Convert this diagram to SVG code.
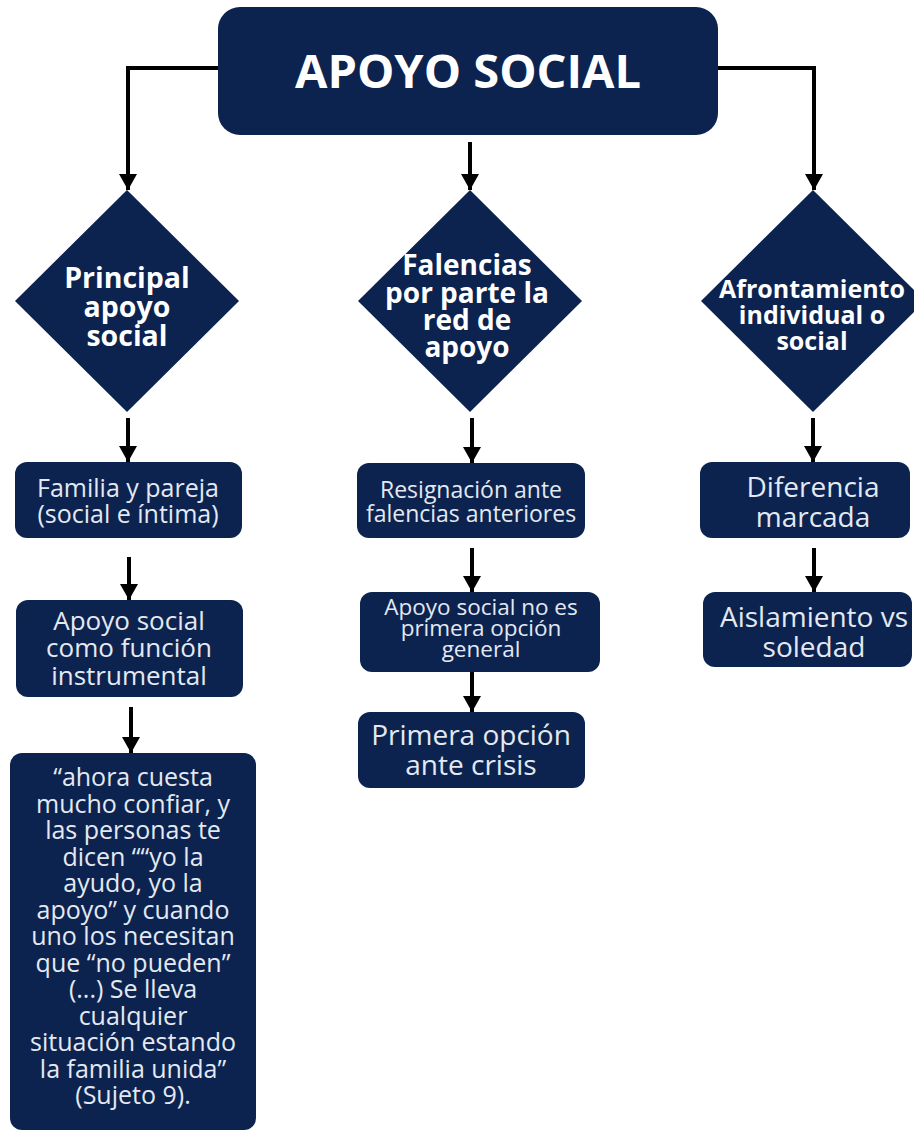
<svg xmlns="http://www.w3.org/2000/svg" width="914" height="1133" viewBox="0 0 914 1133">
<style>
.n{fill:#0c2350}
.t{font-family:"Open Sans","Liberation Sans",sans-serif;text-anchor:middle}
.b{font-weight:700;fill:#ffffff}
.r{font-weight:400;fill:#e4e9f1}
.c{fill:none;stroke:#000;stroke-width:4}
</style>
<defs>
<marker id="ah" markerUnits="userSpaceOnUse" markerWidth="18" markerHeight="20" refX="16" refY="10" orient="auto" viewBox="0 0 18 20">
<path d="M0,1 L16,10 L0,19 z" fill="#000"/>
</marker>
</defs>
<rect width="914" height="1133" fill="#ffffff"/>
<g id="connectors">
<path class="c" d="M218,68 H128 V190" marker-end="url(#ah)"/>
<path class="c" d="M470,142 V190" marker-end="url(#ah)"/>
<path class="c" d="M718,68 H814 V190" marker-end="url(#ah)"/>
<path class="c" d="M128,418 V462" marker-end="url(#ah)"/>
<path class="c" d="M129,557 V600" marker-end="url(#ah)"/>
<path class="c" d="M131,707 V753" marker-end="url(#ah)"/>
<path class="c" d="M472,418 V463" marker-end="url(#ah)"/>
<path class="c" d="M472,548 V592" marker-end="url(#ah)"/>
<path class="c" d="M472,672 V712" marker-end="url(#ah)"/>
<path class="c" d="M813,418 V462" marker-end="url(#ah)"/>
<path class="c" d="M814,548 V592" marker-end="url(#ah)"/>
</g>
<g id="title">
<rect class="n" x="218" y="7" width="500" height="128" rx="22"/>
<text class="t b" x="468" y="88" font-size="47">APOYO SOCIAL</text>
</g>
<g id="d1">
<polygon class="n" points="127,190 239,301 127,412 15,301"/>
<text class="t b" font-size="28.5"><tspan x="127" y="288">Principal</tspan><tspan x="127" y="317">apoyo</tspan><tspan x="127" y="346">social</tspan></text>
</g>
<g id="d2">
<polygon class="n" points="470,190 582,301 470,412 358,301"/>
<text class="t b" font-size="28"><tspan x="467" y="275">Falencias</tspan><tspan x="467" y="303">por parte la</tspan><tspan x="467" y="330">red de</tspan><tspan x="467" y="357">apoyo</tspan></text>
</g>
<g id="d3">
<polygon class="n" points="813,190 925,301 813,412 701,301"/>
<text class="t b" font-size="25"><tspan x="812" y="298">Afrontamiento</tspan><tspan x="812" y="324">individual o</tspan><tspan x="812" y="350">social</tspan></text>
</g>
<g id="b1">
<rect class="n" x="15" y="462" width="227" height="76" rx="12"/>
<text class="t r" font-size="25"><tspan x="128" y="497">Familia y pareja</tspan><tspan x="128" y="523">(social e íntima)</tspan></text>
</g>
<g id="b2">
<rect class="n" x="16" y="600" width="227" height="97" rx="12"/>
<text class="t r" font-size="26"><tspan x="129" y="630">Apoyo social</tspan><tspan x="129" y="657">como función</tspan><tspan x="129" y="685">instrumental</tspan></text>
</g>
<g id="b3">
<rect class="n" x="10" y="753" width="246" height="377" rx="12"/>
<text class="t r" font-size="25"><tspan x="133" y="786">“ahora cuesta</tspan><tspan x="133" y="812.5">mucho confiar, y</tspan><tspan x="133" y="839">las personas te</tspan><tspan x="133" y="865.5">dicen ““yo la</tspan><tspan x="133" y="892">ayudo, yo la</tspan><tspan x="133" y="918.5">apoyo” y cuando</tspan><tspan x="133" y="945">uno los necesitan</tspan><tspan x="133" y="971.5">que “no pueden”</tspan><tspan x="133" y="998">(...) Se lleva</tspan><tspan x="133" y="1024.5">cualquier</tspan><tspan x="133" y="1051">situación estando</tspan><tspan x="133" y="1077.5">la familia unida”</tspan><tspan x="133" y="1104">(Sujeto 9).</tspan></text>
</g>
<g id="m1">
<rect class="n" x="357" y="463" width="228" height="75" rx="12"/>
<text class="t r" font-size="23"><tspan x="471" y="498">Resignación ante</tspan><tspan x="471" y="522">falencias anteriores</tspan></text>
</g>
<g id="m2">
<rect class="n" x="360" y="592" width="240" height="80" rx="12"/>
<text class="t r" font-size="22.5"><tspan x="481" y="615">Apoyo social no es</tspan><tspan x="481" y="636">primera opción</tspan><tspan x="481" y="657">general</tspan></text>
</g>
<g id="m3">
<rect class="n" x="358" y="712" width="227" height="76" rx="12"/>
<text class="t r" font-size="28"><tspan x="471" y="745">Primera opción</tspan><tspan x="471" y="775">ante crisis</tspan></text>
</g>
<g id="r1">
<rect class="n" x="700" y="462" width="210" height="76" rx="12"/>
<text class="t r" font-size="28"><tspan x="813" y="497">Diferencia</tspan><tspan x="813" y="527">marcada</tspan></text>
</g>
<g id="r2">
<rect class="n" x="703" y="592" width="209" height="75" rx="12"/>
<text class="t r" font-size="28"><tspan x="814" y="627">Aislamiento vs</tspan><tspan x="814" y="657">soledad</tspan></text>
</g>
</svg>
